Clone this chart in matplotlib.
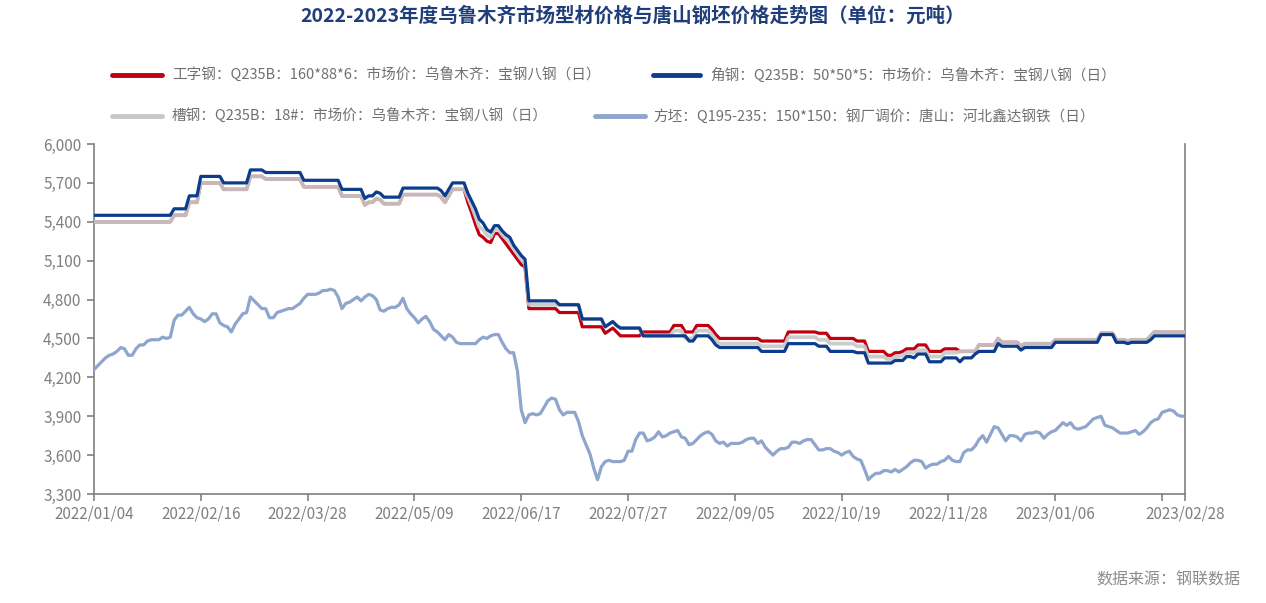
import numpy as np
import matplotlib
matplotlib.use('Agg')
import matplotlib.pyplot as plt
from matplotlib.lines import Line2D
from matplotlib.ticker import FuncFormatter

plt.rcParams['font.family'] = ['Noto Sans CJK SC', 'DejaVu Sans']

TITLE = '2022-2023年度乌鲁木齐市场型材价格与唐山钢坯价格走势图（单位：元吨）'
SOURCE = '数据来源：钢联数据'
NAMES = ['工字钢：Q235B：160*88*6：市场价：乌鲁木齐：宝钢八钢（日）',
         '角钢：Q235B：50*50*5：市场价：乌鲁木齐：宝钢八钢（日）',
         '槽钢：Q235B：18#：市场价：乌鲁木齐：宝钢八钢（日）',
         '方坯：Q195-235：150*150：钢厂调价：唐山：河北鑫达钢铁（日）']
X_LABELS = ['2022/01/04', '2022/02/16', '2022/03/28', '2022/05/09', '2022/06/17',
            '2022/07/27', '2022/09/05', '2022/10/19', '2022/11/28', '2023/01/06', '']
LAST_LABEL = '2023/02/28'
Y_TICKS = [3300, 3600, 3900, 4200, 4500, 4800, 5100, 5400, 5700, 6000]

# stepped price series as (price, number of trading days)
I_BEAM_RUNS = [(5400, 21), (5450, 4), (5550, 3), (5700, 6), (5650, 7), (5750, 4), (5730, 10),
               (5670, 10), (5600, 6), (5530, 1), (5550, 2), (5580, 1), (5570, 1), (5540, 5),
               (5610, 10), (5590, 1), (5550, 1), (5600, 1), (5650, 4),
               (5550, 1), (5470, 1), (5380, 1), (5300, 1), (5280, 1), (5250, 1), (5240, 1),
               (5310, 2), (5270, 1), (5230, 1), (5190, 1), (5150, 1), (5110, 1), (5070, 1), (5050, 1),
               (4730, 8), (4700, 6), (4590, 6), (4540, 1), (4560, 1), (4580, 1), (4550, 1),
               (4520, 6), (4550, 8), (4600, 3), (4550, 3), (4600, 4), (4570, 1), (4530, 1),
               (4500, 11), (4480, 7), (4550, 8), (4540, 3), (4500, 7), (4480, 3), (4400, 5),
               (4370, 2), (4390, 2), (4400, 1), (4420, 3), (4450, 3), (4400, 4), (4420, 4),
               (4400, 5), (4450, 5), (4500, 1), (4470, 5), (4440, 1), (4460, 8), (4490, 12),
               (4540, 4), (4490, 3), (4480, 1), (4490, 5), (4520, 1), (4550, 9)]

ANGLE_RUNS = [(5450, 21), (5500, 4), (5600, 3), (5750, 6), (5700, 7), (5800, 4), (5780, 10),
              (5720, 10), (5650, 6), (5580, 1), (5600, 2), (5630, 1), (5620, 1), (5590, 5),
              (5660, 10), (5640, 1), (5600, 1), (5650, 1), (5700, 4),
              (5620, 1), (5560, 1), (5500, 1), (5420, 1), (5390, 1), (5340, 1), (5320, 1),
              (5370, 2), (5330, 1), (5300, 1), (5280, 1), (5220, 1), (5180, 1), (5140, 1), (5110, 1),
              (4790, 8), (4760, 6), (4650, 6), (4590, 1), (4610, 1), (4630, 1), (4600, 1),
              (4580, 6), (4520, 12), (4480, 2), (4520, 4), (4490, 1), (4450, 1), (4430, 11),
              (4400, 7), (4460, 8), (4440, 3), (4400, 7), (4390, 3), (4310, 7), (4330, 3),
              (4360, 2), (4350, 1), (4380, 3), (4320, 4), (4350, 4), (4320, 1), (4350, 3),
              (4380, 1), (4400, 5), (4460, 1), (4440, 5), (4410, 1), (4430, 8), (4470, 12),
              (4530, 4), (4470, 3), (4460, 1), (4470, 5), (4490, 1), (4520, 9)]

CHANNEL_RUNS = [(5400, 21), (5450, 4), (5550, 3), (5700, 6), (5650, 7), (5750, 4), (5730, 10),
                (5670, 10), (5600, 6), (5530, 1), (5550, 2), (5580, 1), (5570, 1), (5540, 5),
                (5610, 10), (5590, 1), (5550, 1), (5600, 1), (5650, 4),
                (5590, 1), (5520, 1), (5440, 1), (5360, 1), (5340, 1), (5300, 1), (5280, 1),
                (5340, 2), (5300, 1), (5270, 1), (5240, 1), (5190, 1), (5150, 1), (5110, 1), (5080, 1),
                (4760, 14), (4650, 6), (4590, 1), (4610, 1), (4630, 1), (4600, 1), (4580, 6),
                (4520, 8), (4560, 3), (4500, 3), (4560, 4), (4530, 1), (4490, 1), (4460, 11),
                (4440, 7), (4510, 8), (4490, 3), (4460, 7), (4440, 3), (4360, 5), (4340, 2),
                (4360, 2), (4370, 1), (4390, 3), (4410, 3), (4360, 4), (4390, 4), (4400, 5),
                (4450, 5), (4500, 1), (4470, 5), (4440, 1), (4460, 8), (4490, 12), (4540, 4),
                (4490, 3), (4480, 1), (4490, 5), (4520, 1), (4550, 9)]

BILLET = [4260, 4290, 4320, 4350, 4370, 4380, 4400, 4430, 4420, 4370,
          4370, 4420, 4450, 4450, 4480, 4490, 4490, 4490, 4510, 4500,
          4510, 4640, 4680, 4680, 4710, 4740, 4690, 4660, 4650, 4630,
          4650, 4690, 4690, 4620, 4600, 4590, 4550, 4610, 4650, 4690,
          4700, 4820, 4790, 4760, 4730, 4730, 4660, 4660, 4700, 4710,
          4720, 4730, 4730, 4750, 4770, 4810, 4840, 4840, 4840, 4850,
          4870, 4870, 4880, 4870, 4820, 4730, 4770, 4780, 4800, 4820,
          4790, 4820, 4840, 4830, 4800, 4720, 4710, 4730, 4740, 4740,
          4760, 4810, 4730, 4690, 4660, 4620, 4650, 4670, 4630, 4570,
          4550, 4520, 4490, 4530, 4510, 4470, 4460, 4460, 4460, 4460,
          4460, 4490, 4510, 4500, 4520, 4530, 4530, 4470, 4420, 4390,
          4390, 4250, 3950, 3850, 3910, 3920, 3910, 3920, 3970, 4020,
          4040, 4030, 3950, 3910, 3930, 3930, 3930, 3860, 3750, 3680,
          3610, 3500, 3410, 3510, 3550, 3560, 3550, 3550, 3550, 3560,
          3630, 3630, 3720, 3770, 3770, 3710, 3720, 3740, 3780, 3740,
          3750, 3770, 3780, 3790, 3740, 3730, 3680, 3690, 3720, 3750,
          3770, 3780, 3760, 3710, 3690, 3700, 3670, 3690, 3690, 3690,
          3700, 3720, 3730, 3730, 3690, 3710, 3660, 3630, 3600, 3630,
          3650, 3650, 3660, 3700, 3700, 3690, 3710, 3720, 3720, 3680,
          3640, 3640, 3650, 3650, 3630, 3620, 3600, 3620, 3630, 3590,
          3570, 3560, 3490, 3410, 3440, 3460, 3460, 3480, 3480, 3470,
          3490, 3470, 3490, 3510, 3540, 3560, 3560, 3550, 3500, 3520,
          3530, 3530, 3550, 3560, 3590, 3560, 3550, 3550, 3620, 3640,
          3640, 3670, 3720, 3750, 3700, 3760, 3820, 3810, 3760, 3710,
          3750, 3750, 3740, 3710, 3760, 3770, 3770, 3780, 3770, 3730,
          3760, 3780, 3790, 3820, 3850, 3830, 3850, 3810, 3800, 3810,
          3820, 3850, 3880, 3890, 3900, 3830, 3820, 3810, 3790, 3770,
          3770, 3770, 3780, 3790, 3760, 3780, 3810, 3850, 3870, 3880,
          3930, 3940, 3950, 3940, 3910, 3900, 3900]


def expand(runs):
    vals = [v for v, _ in runs]
    counts = [c for _, c in runs]
    return np.repeat(vals, counts)


i_beam = expand(I_BEAM_RUNS)
angle = expand(ANGLE_RUNS)
channel = expand(CHANNEL_RUNS)
billet = np.array(BILLET)
n = len(billet)
x = np.arange(n)

COLORS = ['#c00010', '#0b3d8c', '#c8c8c8', '#8ea5cd']
GREY = '#808080'

fig = plt.figure(figsize=(12.66, 6.03), dpi=100)
ax = fig.add_axes([94 / 1266, 1 - 494 / 603, (1185 - 94) / 1266, 350 / 603])

ax.plot(x, i_beam, color=COLORS[0], lw=2.3, zorder=2, solid_joinstyle='round')
ax.plot(x, channel, color=COLORS[2], lw=2.7, alpha=0.92, zorder=3, solid_joinstyle='round')
ax.plot(x, angle, color=COLORS[1], lw=2.3, zorder=4, solid_joinstyle='round')
ax.plot(x, billet, color=COLORS[3], lw=2.3, zorder=5, solid_joinstyle='round')

ax.set_xlim(0, n - 1)
ax.set_ylim(3300, 6000)
ax.set_yticks(Y_TICKS)
ax.yaxis.set_major_formatter(FuncFormatter(lambda v, p: f'{int(v):,}'))
ticks = list(range(0, 28 * len(X_LABELS), 28)) + [n - 1]
ax.set_xticks(ticks)
ax.set_xticklabels(X_LABELS + [LAST_LABEL])

ax.spines['top'].set_visible(False)
for s in ['left', 'right', 'bottom']:
    ax.spines[s].set_color(GREY)
    ax.spines[s].set_linewidth(1.2)
ax.tick_params(axis='both', colors=GREY, labelcolor=GREY, labelsize=11, length=5, width=1.2)
ax.tick_params(axis='x', pad=3)
ax.tick_params(axis='y', pad=4)

fig.text(0.5, 1 - 16 / 603, TITLE, ha='center', va='center', fontsize=14,
         fontweight='bold', color='#1f3e7a')

# legend laid out in two wrapped rows
legend_pos = [(112, 162, 172, 75), (653, 700, 710, 75), (112, 162, 172, 116), (595, 645, 653, 116)]
for (x0, x1, tx, y), name, c in zip(legend_pos, NAMES, COLORS):
    yy = 1 - y / 603
    fig.add_artist(Line2D([x0 / 1266, x1 / 1266], [yy, yy], color=c, lw=3.5,
                          solid_capstyle='round', transform=fig.transFigure))
    fig.text(tx / 1266, yy, name, ha='left', va='center', fontsize=10.5, color='#707070')

fig.text(1240 / 1266, 1 - 580 / 603, SOURCE, ha='right', va='center', fontsize=11.5,
         color='#8c8c8c')

fig.savefig('out.png', dpi=100, facecolor='white')
